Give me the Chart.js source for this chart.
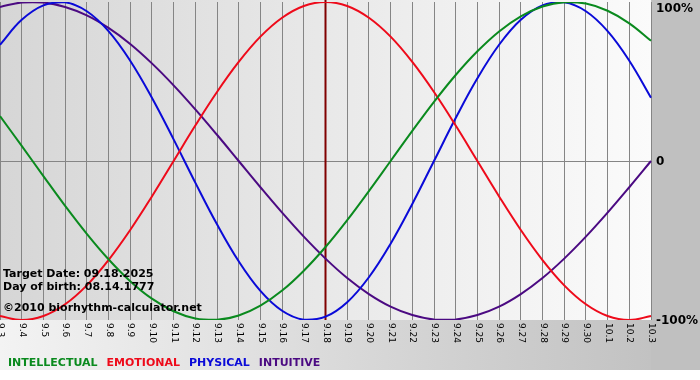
<!DOCTYPE html>
<html>
<head>
<meta charset="utf-8">
<script src="https://cdn.jsdelivr.net/npm/chart.js@4.4.1/dist/chart.umd.min.js"></script>
<style>
    html, body { margin: 0; padding: 0; background: #ffffff; }
    #wrap { width: 700px; height: 380px; position: relative; }
</style>
</head>
<body>
<div id="wrap"><canvas id="bioChart" width="700" height="380"></canvas></div>
<script>
'use strict';

/* ── Chart data ──────────────────────────────────────────────────────────── */

const DAYS = ['9.3', '9.4', '9.5', '9.6', '9.7', '9.8', '9.9', '9.10', '9.11', '9.12',
    '9.13', '9.14', '9.15', '9.16', '9.17', '9.18', '9.19', '9.20', '9.21', '9.22',
    '9.23', '9.24', '9.25', '9.26', '9.27', '9.28', '9.29', '9.30', '10.1', '10.2', '10.3'];

const INTELLECTUAL = [0.282, 0.095, -0.095, -0.282, -0.458, -0.618, -0.756, -0.866, -0.945, -0.990,
    -0.999, -0.972, -0.910, -0.815, -0.690, -0.541, -0.372, -0.189, 0.000, 0.189,
    0.372, 0.541, 0.690, 0.815, 0.910, 0.972, 0.999, 0.990, 0.945, 0.866, 0.756];

const EMOTIONAL = [-0.975, -1.000, -0.975, -0.901, -0.782, -0.623, -0.434, -0.223, 0.000, 0.223,
    0.434, 0.623, 0.782, 0.901, 0.975, 1.000, 0.975, 0.901, 0.782, 0.623,
    0.434, 0.223, 0.000, -0.223, -0.434, -0.623, -0.782, -0.901, -0.975, -1.000, -0.975];

const PHYSICAL = [0.731, 0.888, 0.979, 0.998, 0.942, 0.817, 0.631, 0.398, 0.136, -0.136,
    -0.398, -0.631, -0.817, -0.942, -0.998, -0.979, -0.888, -0.731, -0.520, -0.270,
    0.000, 0.270, 0.520, 0.731, 0.888, 0.979, 0.998, 0.942, 0.817, 0.631, 0.398];

const INTUITIVE = [0.969, 0.997, 0.997, 0.969, 0.916, 0.837, 0.736, 0.614, 0.476, 0.325,
    0.165, 0.000, -0.165, -0.325, -0.476, -0.614, -0.736, -0.837, -0.916, -0.969,
    -0.997, -0.997, -0.969, -0.916, -0.837, -0.736, -0.614, -0.476, -0.325, -0.165, 0.000];

const Y_VALUES = [1, 0, -1];
const Y_LABELS = ['100%', '0', '-100%'];
const TARGET_DAY = '9.18';
const INFO_LINES = ['Target Date: 09.18.2025', 'Day of birth: 08.14.1777'];
const CREDIT = '©2010 biorhythm-calculator.net';

const SERIES = [
    { name: 'INTELLECTUAL', data: INTELLECTUAL, color: '#0a8a1e' },
    { name: 'EMOTIONAL', data: EMOTIONAL, color: '#ee0a1a' },
    { name: 'PHYSICAL', data: PHYSICAL, color: '#0a0ad8' },
    { name: 'INTUITIVE', data: INTUITIVE, color: '#4b0a82' },
];

const FONT = '"DejaVu Sans", Verdana, sans-serif';

/* ── Backdrop: grey gradients behind plot and frame ──────────────────────── */

const bioBackdrop = {
    id: 'bioBackdrop',
    beforeDraw(chart) {
        const { ctx, chartArea: a, width } = chart;
        ctx.save();
        const band = ctx.createLinearGradient(0, 0, a.right, 0);
        band.addColorStop(0, '#f3f3f3');
        band.addColorStop(1, '#c2c2c2');
        ctx.fillStyle = band;
        ctx.fillRect(0, 0, width, 370);
        ctx.fillStyle = '#c0c0c0';
        ctx.fillRect(a.right, 0, width - a.right, 370);

        const plot = ctx.createLinearGradient(a.left, 0, a.right, 0);
        plot.addColorStop(0, '#d6d6d6');
        plot.addColorStop(1, '#fbfbfb');
        ctx.fillStyle = plot;
        ctx.fillRect(a.left, 0, a.right - a.left, a.bottom);
        ctx.restore();
    },
    beforeDatasetsDraw(chart) {
        // target date marker
        const { ctx, chartArea: a, scales } = chart;
        const x = scales.x.getPixelForValue(DAYS.indexOf(TARGET_DAY));
        ctx.save();
        ctx.strokeStyle = '#800000';
        ctx.lineWidth = 2;
        ctx.beginPath();
        ctx.moveTo(x, 0);
        ctx.lineTo(x, a.bottom);
        ctx.stroke();
        ctx.restore();
    },
    afterDatasetsDraw(chart) {
        const { ctx, chartArea: a, scales } = chart;
        ctx.save();

        // info block inside the plot
        ctx.fillStyle = '#000000';
        ctx.font = `bold 11px ${FONT}`;
        ctx.textAlign = 'left';
        ctx.textBaseline = 'alphabetic';
        ctx.fillText(INFO_LINES[0], 3, 277);
        ctx.fillText(INFO_LINES[1], 3, 290);
        ctx.fillText(CREDIT, 3, 311);

        // x tick labels, rotated clockwise
        ctx.font = `9px ${FONT}`;
        ctx.textBaseline = 'middle';
        DAYS.forEach((lbl, i) => {
            const x = scales.x.getPixelForTick(i);
            ctx.save();
            ctx.translate(x + 0.5, a.bottom + 3);
            ctx.rotate(Math.PI / 2);
            ctx.fillText(lbl, 0, 0);
            ctx.restore();
        });

        // y labels on the right
        ctx.font = `bold 12px ${FONT}`;
        Y_VALUES.forEach((v, i) => {
            const y = Math.max(scales.y.getPixelForValue(v), 8);
            ctx.fillText(Y_LABELS[i], a.right + 5, y + 1);
        });

        // legend
        ctx.font = `bold 11px ${FONT}`;
        ctx.textBaseline = 'alphabetic';
        let lx = 8;
        SERIES.forEach(s => {
            ctx.fillStyle = s.color;
            ctx.fillText(s.name, lx, 366);
            lx += ctx.measureText(s.name).width + 9;
        });
        ctx.restore();
    },
};

/* ── Chart ───────────────────────────────────────────────────────────────── */

const ctxBio = document.getElementById('bioChart').getContext('2d');
new Chart(ctxBio, {
    type: 'line',
    data: {
        labels: DAYS,
        datasets: SERIES.map(s => ({
            label: s.name,
            data: s.data,
            borderColor: s.color,
            borderWidth: 2,
            pointRadius: 0,
            tension: 0.4,
            fill: false,
        })),
    },
    options: {
        responsive: false,
        animation: false,
        events: [],
        layout: { padding: { top: 2, left: 0, right: 0, bottom: 0 } },
        plugins: {
            legend: { display: false },
            tooltip: { enabled: false },
        },
        scales: {
            x: {
                offset: false,
                ticks: { display: false },
                grid: { color: '#858585', lineWidth: 1, drawTicks: false },
                border: { display: false },
                afterFit: scale => { scale.height = 60; },
            },
            y: {
                position: 'right',
                min: -1,
                max: 1,
                ticks: { display: false, stepSize: 1 },
                grid: {
                    drawTicks: false,
                    color: c => (c.tick && c.tick.value === 0 ? '#858585' : 'rgba(0,0,0,0)'),
                },
                border: { display: false },
                afterFit: scale => { scale.width = 49; },
            },
        },
    },
    plugins: [bioBackdrop],
});
</script>
</body>
</html>
